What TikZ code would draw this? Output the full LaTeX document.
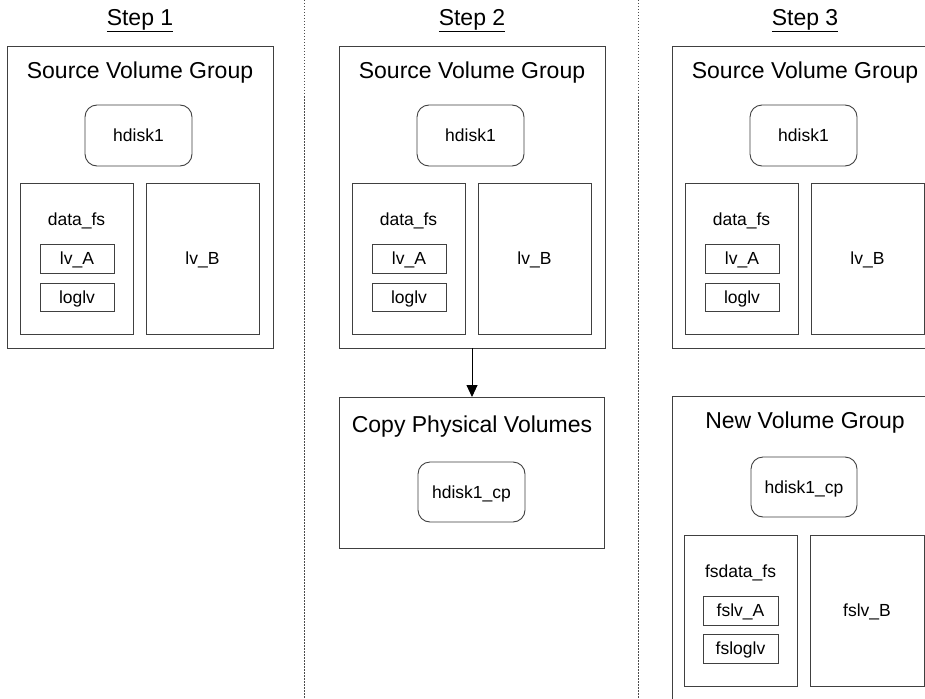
\documentclass[tikz,border=0pt]{standalone}
\usepackage{fontspec}
\setmainfont{Liberation Sans}
\usetikzlibrary{arrows.meta}
\begin{document}
\begin{tikzpicture}[x=1pt,y=-1pt,
  every node/.style={inner sep=0pt, outer sep=0pt, text depth=0pt},
  box/.style={draw=black!75, line width=0.9pt, rectangle, text height=12.5pt},
  disk/.style={draw=black!75, line width=0.9pt, rectangle, rounded corners=12pt, text height=12.5pt, font=\fontsize{17.5}{20}\selectfont},
  small/.style={font=\fontsize{17.5}{20}\selectfont, text height=12.5pt},
  big/.style={font=\fontsize{23}{27}\selectfont, text height=16.5pt},
  sep/.style={draw=black!70, line width=0.8pt, dash pattern=on 1.5pt off 1.5pt},
  arr/.style={draw=black, line width=0.9pt, -{Triangle[length=12pt,width=11pt]}}]
\useasboundingbox (0,0) rectangle (925,698);
\clip (0,0) rectangle (925,698);
\fill[white] (0,0) rectangle (925,698);
% separators
\coordinate (s1t) at (304,0); \coordinate (s1b) at (304,698);
\coordinate (s2t) at (638,0); \coordinate (s2b) at (638,698);
\draw[sep] (s1t) -- (s1b);
\draw[sep] (s2t) -- (s2b);
% three source volume groups
\foreach \i/\dx in {1/0,2/332,3/665}{
  \node[big] (step\i) at (140+\dx,17) {\underline{Step \i}};
  \node[box, minimum width=266, minimum height=302] (g\i) at (140+\dx,197) {};
  \node[big] (gt\i) at (140+\dx,70) {Source Volume Group};
  \node[disk, minimum width=107, minimum height=61] (hd\i) at (138.5+\dx,135.5) {hdisk1};
  \node[box, minimum width=113, minimum height=151] (df\i) at (76.5+\dx,258.5) {};
  \node[small] (dft\i) at (76.5+\dx,219) {data\_fs};
  \node[box, small, minimum width=74, minimum height=29] (la\i) at (77+\dx,258.5) {lv\_A};
  \node[box, small, minimum width=74, minimum height=28] (ll\i) at (77+\dx,297) {loglv};
  \node[box, small, minimum width=113, minimum height=151] (lb\i) at (202.5+\dx,258.5) {lv\_B};
}
% step 2 copy
\node[box, minimum width=265, minimum height=151] (cp) at (472,472.5) {};
\node[big] (cpt) at (472,424) {Copy Physical Volumes};
\node[disk, minimum width=107, minimum height=60] (cpd) at (471.5,492) {hdisk1\_cp};
\draw[arr] (g2.south) -- (cp.north);
% step 3 new volume group
\node[box, minimum width=266, minimum height=304] (ng) at (805,548) {};
\node[big] (ngt) at (805,420) {New Volume Group};
\node[disk, minimum width=106, minimum height=60] (nd) at (804,487) {hdisk1\_cp};
\node[box, minimum width=113, minimum height=151] (nf) at (740.5,610.5) {};
\node[small] (nft) at (740.5,571.5) {fsdata\_fs};
\node[box, small, minimum width=75, minimum height=29] (na) at (740.5,610.5) {fslv\_A};
\node[box, small, minimum width=75, minimum height=29] (nl) at (740.5,648.5) {fsloglv};
\node[box, small, minimum width=114, minimum height=151] (nb) at (867,610.5) {fslv\_B};
\end{tikzpicture}
\end{document}
